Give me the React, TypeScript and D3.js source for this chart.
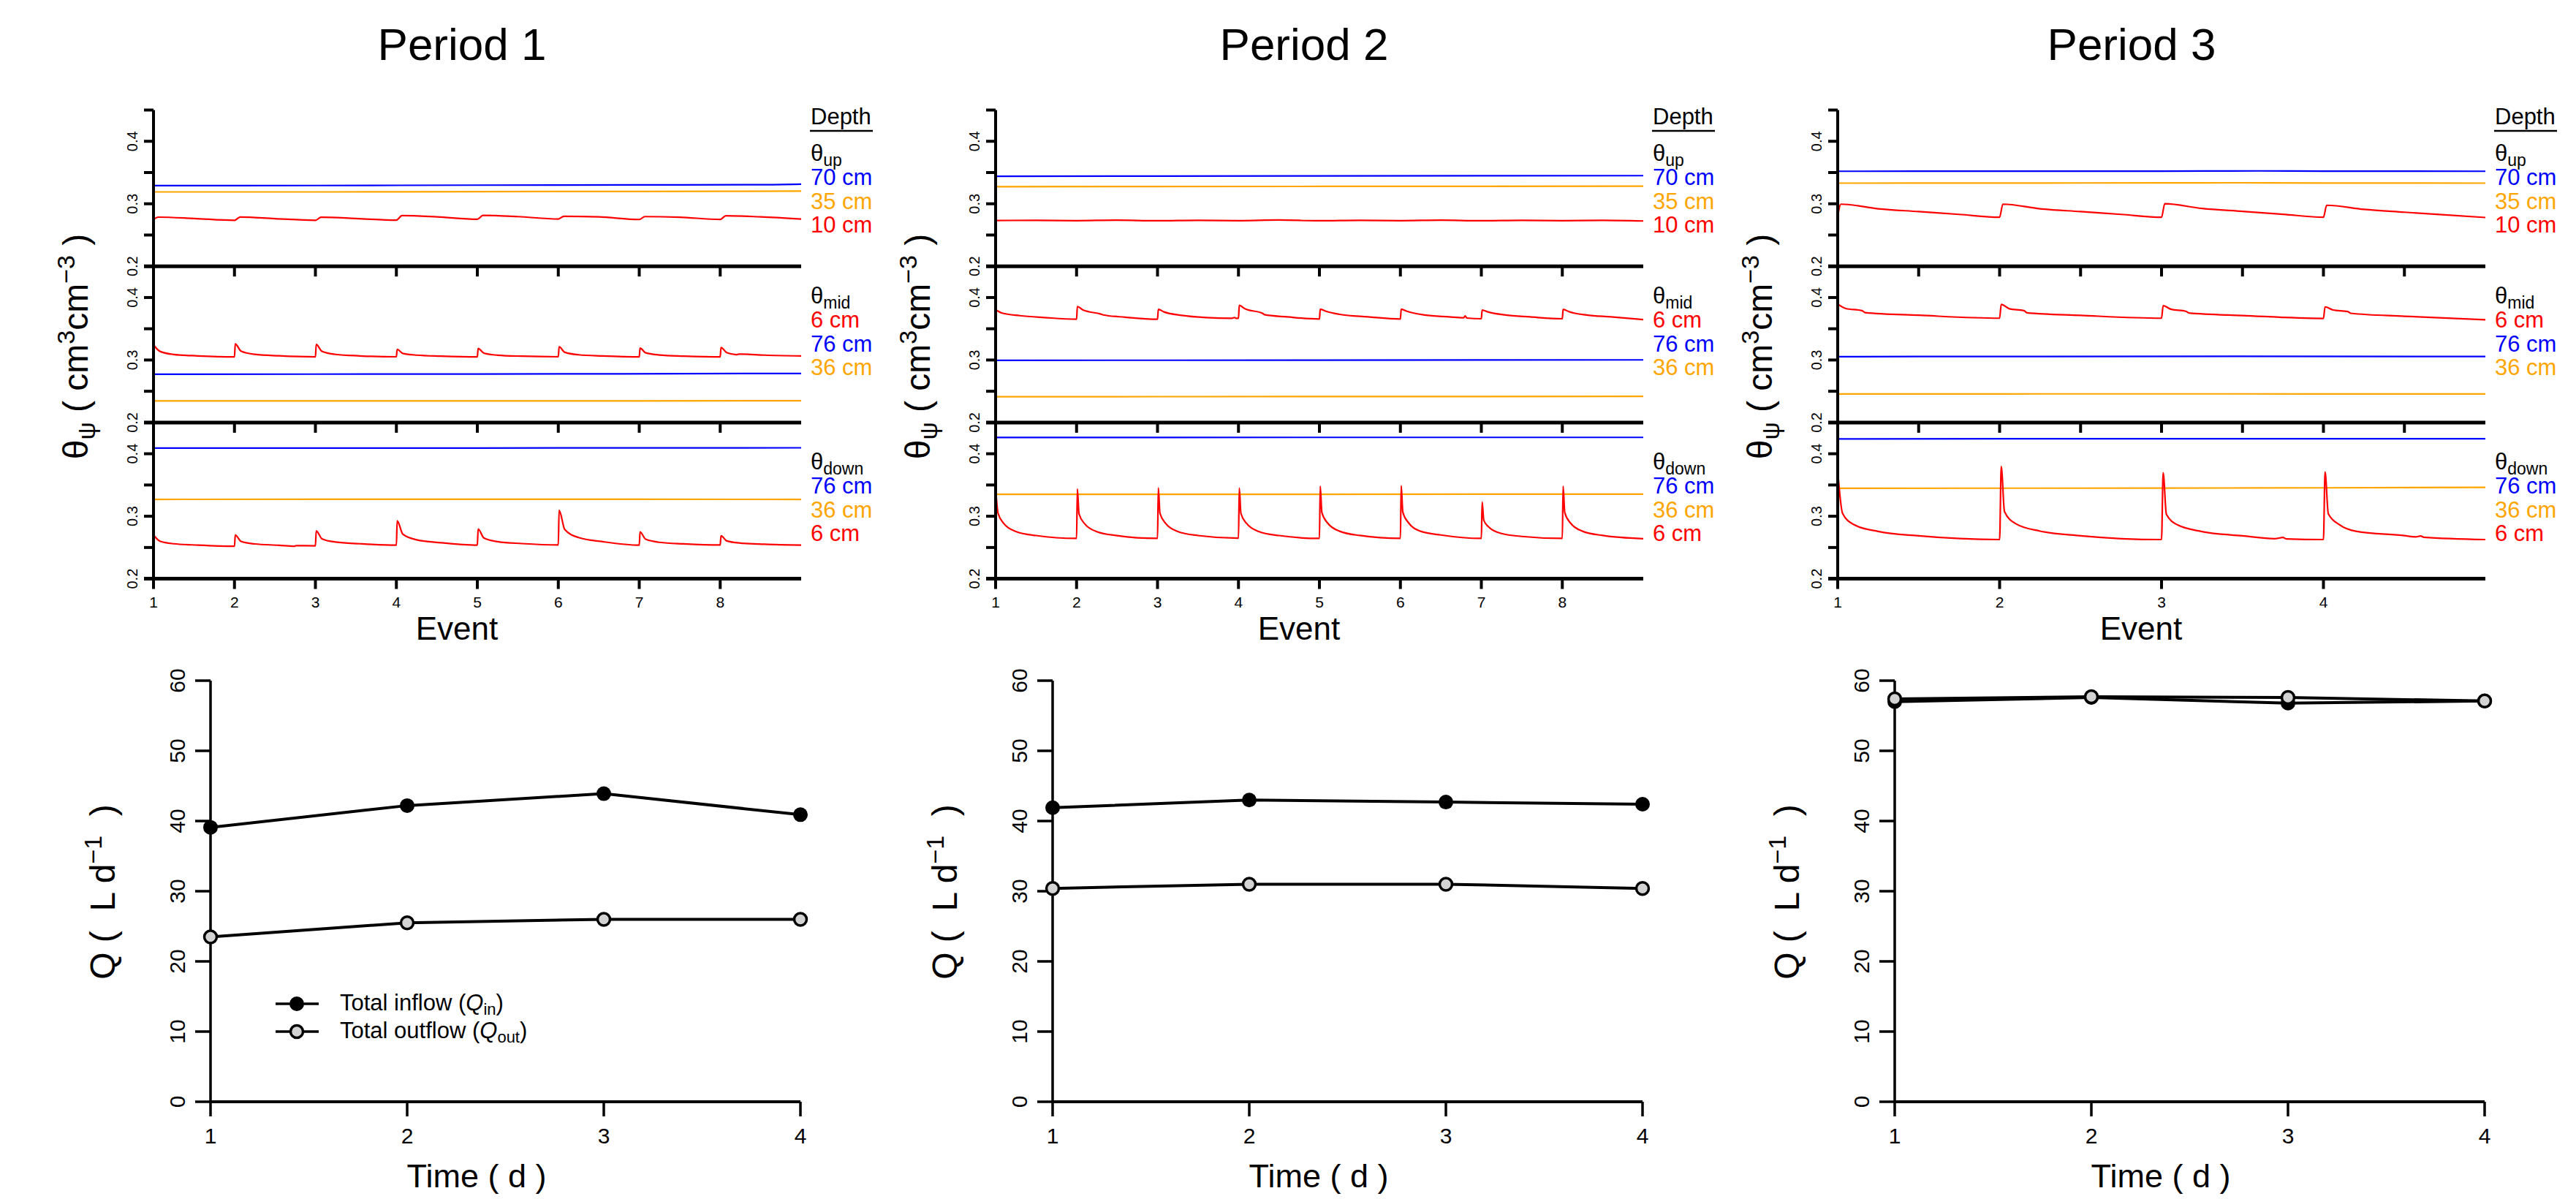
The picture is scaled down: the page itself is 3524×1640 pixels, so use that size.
import React from "react";
import * as d3 from "d3";

type Pt = [number, number];

// ---- data ----
const periods = ["Period 1", "Period 2", "Period 3"];
const eventMax = [9, 9, 5];
const eventTicks = [
  [1, 2, 3, 4, 5, 6, 7, 8],
  [1, 2, 3, 4, 5, 6, 7, 8],
  [1, 2, 3, 4],
];
const innerTicks = [
  [2, 3, 4, 5, 6, 7, 8],
  [2, 3, 4, 5, 6, 7, 8],
  [1.5, 2, 2.5, 3, 3.5, 4, 4.5],
];
const thetaTicks = [0.2, 0.25, 0.3, 0.35, 0.4];
const thetaLabels = [0.2, 0.3, 0.4];

const timeDays = [1, 2, 3, 4];
const qTicks = [0, 10, 20, 30, 40, 50, 60];
const inflow = [
  [39.1, 42.2, 43.9, 40.9],
  [41.9, 43.0, 42.7, 42.4],
  [57.0, 57.6, 56.8, 57.1],
];
const outflow = [
  [23.5, 25.5, 26.0, 26.0],
  [30.4, 31.0, 31.0, 30.4],
  [57.4, 57.7, 57.6, 57.1],
];

const upDepths = ["70 cm", "35 cm", "10 cm"];
const midDepths = ["6 cm", "76 cm", "36 cm"];
const downDepths = ["76 cm", "36 cm", "6 cm"];

// Period 1
const p1UpBlue: Pt[] = [[1, 0.329], [3, 0.3292], [5, 0.3298], [7, 0.3302], [8.5, 0.3305], [9, 0.3315]];
const p1UpOrange: Pt[] = [[1, 0.319], [3, 0.319], [5, 0.3195], [7, 0.3198], [9, 0.3202]];
const p1UpRed: Pt[] = [
  [1, 0.2748], [1.06, 0.2786], [1.5, 0.2765], [2, 0.2735], [2.07, 0.2788], [2.5, 0.2762], [3, 0.2735],
  [3.07, 0.2785], [3.5, 0.2765], [4, 0.2738], [4.07, 0.281], [4.5, 0.279], [5, 0.2752], [5.07, 0.2815],
  [5.5, 0.2795], [6, 0.2756], [6.07, 0.28], [6.5, 0.279], [7, 0.2748], [7.07, 0.2795], [7.5, 0.2785],
  [8, 0.275], [8.07, 0.2808], [8.5, 0.279], [9, 0.2756],
];
const p1MidRed: Pt[] = [
  [1, 0.3245], [1.08, 0.3138], [1.25, 0.3089], [1.55, 0.3066], [2, 0.305],
  [2.01, 0.3257], [2.08, 0.3143], [2.25, 0.3091], [2.55, 0.3067], [3, 0.305],
  [3.01, 0.325], [3.08, 0.314], [3.25, 0.309], [3.55, 0.3066], [4, 0.3052],
  [4.01, 0.317], [4.08, 0.3106], [4.25, 0.3078], [4.55, 0.3062], [5, 0.305],
  [5.01, 0.3185], [5.08, 0.3111], [5.25, 0.3077], [5.55, 0.3061], [6, 0.3052],
  [6.01, 0.321], [6.08, 0.3123], [6.25, 0.3084], [6.55, 0.3065], [7, 0.305],
  [7.01, 0.319], [7.08, 0.3114], [7.25, 0.308], [7.55, 0.3063], [8, 0.305],
  [8.01, 0.32], [8.08, 0.3118], [8.2, 0.3085], [8.23, 0.3095], [8.55, 0.3078], [9, 0.3066],
];
const p1MidBlue: Pt[] = [[1, 0.2773], [5, 0.2776], [9, 0.2785]];
const p1MidOrange: Pt[] = [[1, 0.2346], [5, 0.2345], [9, 0.2348]];
const p1DownBlue: Pt[] = [[1, 0.409], [5, 0.4092], [9, 0.4095]];
const p1DownOrange: Pt[] = [[1, 0.327], [5, 0.3272], [9, 0.327]];
const p1DownRed: Pt[] = [
  [1, 0.27], [1.08, 0.2601], [1.25, 0.256], [1.55, 0.2538], [2, 0.252],
  [2.01, 0.27], [2.08, 0.2598], [2.25, 0.2557], [2.55, 0.2536], [2.74, 0.252], [2.76, 0.253], [3, 0.2527],
  [3.01, 0.2766], [3.08, 0.264], [3.25, 0.2587], [3.55, 0.256], [4, 0.2537],
  [4.01, 0.2928], [4.08, 0.2713], [4.25, 0.2623], [4.55, 0.2576], [5, 0.2537],
  [5.01, 0.2796], [5.08, 0.2654], [5.25, 0.2594], [5.55, 0.2563], [6, 0.254],
  [6.01, 0.3096], [6.08, 0.2787], [6.25, 0.2659], [6.55, 0.2593], [7, 0.2537],
  [7.01, 0.2748], [7.08, 0.2632], [7.25, 0.2583], [7.55, 0.2558], [8, 0.254],
  [8.01, 0.2688], [8.08, 0.2605], [8.25, 0.257], [8.55, 0.2552], [9, 0.2537],
];

// Period 2
const p2UpBlue: Pt[] = [[1, 0.344], [5, 0.3445], [9, 0.345]];
const p2UpOrange: Pt[] = [[1, 0.3274], [5, 0.3278], [9, 0.3282]];
const p2UpRed: Pt[] = [
  [1, 0.2732], [1.5, 0.2735], [2, 0.273], [2.5, 0.2738], [3, 0.2728], [3.5, 0.2736], [4, 0.273],
  [4.5, 0.274], [5, 0.2728], [5.5, 0.2736], [6, 0.273], [6.5, 0.2738], [7, 0.2728], [7.5, 0.2735],
  [8, 0.273], [8.5, 0.2736], [9, 0.2725],
];
const p2MidRed: Pt[] = [
  [1, 0.3806], [1.08, 0.375], [1.3, 0.371], [1.6, 0.368], [2, 0.3652],
  [2.01, 0.3856], [2.08, 0.38], [2.3, 0.3735], [2.33, 0.3722], [2.6, 0.3685], [3, 0.3652],
  [3.01, 0.381], [3.08, 0.377], [3.3, 0.3715], [3.6, 0.368], [3.92, 0.3668], [3.95, 0.368], [3.97, 0.3668], [4, 0.3668],
  [4.01, 0.3874], [4.08, 0.382], [4.3, 0.3745], [4.32, 0.3725], [4.6, 0.369], [5, 0.3655],
  [5.01, 0.3814], [5.08, 0.378], [5.25, 0.373], [5.6, 0.369], [6, 0.3655],
  [6.01, 0.3814], [6.08, 0.378], [6.3, 0.372], [6.6, 0.369], [6.78, 0.3675], [6.8, 0.3705], [6.82, 0.3672], [7, 0.366],
  [7.01, 0.38], [7.08, 0.377], [7.3, 0.372], [7.6, 0.369], [8, 0.366],
  [8.01, 0.381], [8.08, 0.3775], [8.3, 0.372], [8.6, 0.369], [9, 0.3647],
];
const p2MidBlue: Pt[] = [[1, 0.2995], [5, 0.2998], [9, 0.3002]];
const p2MidOrange: Pt[] = [[1, 0.2413], [5, 0.2415], [9, 0.2418]];
const p2DownBlue: Pt[] = [[1, 0.426], [5, 0.4262], [9, 0.4262]];
const p2DownOrange: Pt[] = [[1, 0.335], [5, 0.3352], [9, 0.3355]];
const p2DownRed: Pt[] = [
  [1, 0.3454], [1.03, 0.3048], [1.1, 0.2886], [1.25, 0.2756], [1.5, 0.2691], [2, 0.2645],
  [2.01, 0.3436], [2.03, 0.3039], [2.1, 0.288], [2.25, 0.2753], [2.5, 0.269], [3, 0.2645],
  [3.01, 0.3454], [3.03, 0.3048], [3.1, 0.2886], [3.25, 0.2756], [3.5, 0.2691], [4, 0.2648],
  [4.01, 0.345], [4.03, 0.3046], [4.1, 0.2885], [4.25, 0.2756], [4.5, 0.2691], [5, 0.2645],
  [5.01, 0.348], [5.03, 0.306], [5.1, 0.2893], [5.25, 0.276], [5.5, 0.2692], [6, 0.2645],
  [6.01, 0.349], [6.03, 0.3065], [6.1, 0.2896], [6.25, 0.276], [6.5, 0.27], [7, 0.2645],
  [7.01, 0.3227], [7.03, 0.2935], [7.1, 0.2818], [7.25, 0.2724], [7.5, 0.2677], [8, 0.2645],
  [8.01, 0.348], [8.03, 0.306], [8.1, 0.2893], [8.25, 0.276], [8.5, 0.2692], [9, 0.264],
];

// Period 3
const p3UpBlue: Pt[] = [[1, 0.352], [2, 0.3522], [3, 0.3522], [3.6, 0.3526], [4, 0.3522], [5, 0.352]];
const p3UpOrange: Pt[] = [[1, 0.333], [2, 0.3332], [3, 0.3334], [3.5, 0.3336], [4, 0.3332], [5, 0.333]];
const p3UpRed: Pt[] = [
  [1, 0.2797], [1.02, 0.2994], [1.25, 0.292], [1.5, 0.2875], [1.75, 0.283], [2, 0.2785],
  [2.02, 0.2994], [2.25, 0.292], [2.5, 0.2875], [2.75, 0.283], [3, 0.2785],
  [3.02, 0.3], [3.25, 0.2925], [3.5, 0.2878], [3.75, 0.2832], [4, 0.2785],
  [4.02, 0.2976], [4.25, 0.291], [4.5, 0.2865], [4.75, 0.2822], [5, 0.278],
];
const p3MidRed: Pt[] = [
  [1, 0.3896], [1.05, 0.3824], [1.15, 0.379], [1.17, 0.3758], [1.5, 0.3716], [2, 0.3669],
  [2.01, 0.389], [2.06, 0.382], [2.15, 0.379], [2.17, 0.3756], [2.5, 0.3714], [3, 0.3669],
  [3.01, 0.387], [3.06, 0.381], [3.15, 0.378], [3.17, 0.3752], [3.5, 0.3712], [4, 0.3665],
  [4.01, 0.385], [4.06, 0.38], [4.15, 0.3775], [4.17, 0.3748], [4.5, 0.37], [5, 0.3645],
];
const p3MidBlue: Pt[] = [[1, 0.3054], [2, 0.3056], [3.5, 0.3058], [5, 0.3055]];
const p3MidOrange: Pt[] = [[1, 0.2457], [3, 0.2458], [5, 0.2456]];
const p3DownBlue: Pt[] = [[1, 0.4238], [3, 0.424], [5, 0.424]];
const p3DownOrange: Pt[] = [[1, 0.3448], [3, 0.345], [4, 0.3455], [5, 0.3463]];
const p3DownRed: Pt[] = [
  [1, 0.3731], [1.03, 0.3045], [1.1, 0.2866], [1.25, 0.2758], [1.5, 0.2687], [2, 0.2627],
  [2.01, 0.3797], [2.03, 0.3075], [2.1, 0.288], [2.25, 0.2762], [2.5, 0.2688], [3, 0.2627],
  [3.01, 0.3696], [3.03, 0.303], [3.1, 0.286], [3.25, 0.2755], [3.5, 0.2687], [3.7, 0.264], [3.75, 0.266], [3.77, 0.2638], [4, 0.2627],
  [4.01, 0.3708], [4.03, 0.304], [4.1, 0.2862], [4.2, 0.276], [4.5, 0.269], [4.57, 0.267], [4.6, 0.2685], [4.62, 0.2664], [5, 0.2627],
];

const BLUE = "#0000FF";
const ORANGE = "#FFA500";
const RED = "#FF0000";
const FONT = "'Liberation Sans', Arial, Helvetica, sans-serif";

// strips: [series, colour] per period, top to bottom
const stripSeries: [Pt[], string][][][] = [
  [
    [[p1UpBlue, BLUE], [p1UpOrange, ORANGE], [p1UpRed, RED]],
    [[p1MidRed, RED], [p1MidBlue, BLUE], [p1MidOrange, ORANGE]],
    [[p1DownBlue, BLUE], [p1DownOrange, ORANGE], [p1DownRed, RED]],
  ],
  [
    [[p2UpBlue, BLUE], [p2UpOrange, ORANGE], [p2UpRed, RED]],
    [[p2MidRed, RED], [p2MidBlue, BLUE], [p2MidOrange, ORANGE]],
    [[p2DownBlue, BLUE], [p2DownOrange, ORANGE], [p2DownRed, RED]],
  ],
  [
    [[p3UpBlue, BLUE], [p3UpOrange, ORANGE], [p3UpRed, RED]],
    [[p3MidRed, RED], [p3MidBlue, BLUE], [p3MidOrange, ORANGE]],
    [[p3DownBlue, BLUE], [p3DownOrange, ORANGE], [p3DownRed, RED]],
  ],
];

// layout
const W = 3524;
const H = 1640;
const PANEL_DX = 1152;
const TITLE_X = [632, 1784, 2916];
const STRIP_L = 210;
const STRIP_R = 1096;
const STRIP_TOP = 150.5;
const STRIP_H = 213.7;
const Q_L = 288;
const Q_R = 1095;
const Q_TOP = 931;
const Q_BOT = 1507;

const legendBlocks = [
  { sub: "up", labels: upDepths, colors: [BLUE, ORANGE, RED], y: 220 },
  { sub: "mid", labels: midDepths, colors: [RED, BLUE, ORANGE], y: 415 },
  { sub: "down", labels: downDepths, colors: [BLUE, ORANGE, RED], y: 642 },
];

function Panel({ i }: { i: number }) {
  const dx = i * PANEL_DX;
  const x = d3.scaleLinear().domain([1, eventMax[i]]).range([STRIP_L + dx, STRIP_R + dx]);
  const yScales = [0, 1, 2].map((k) =>
    d3.scaleLinear().domain([0.2, 0.45]).range([STRIP_TOP + (k + 1) * STRIP_H, STRIP_TOP + k * STRIP_H])
  );
  const qx = d3.scaleLinear().domain([1, 4]).range([Q_L + dx, Q_R + dx]);
  const qy = d3.scaleLinear().domain([0, 60]).range([Q_BOT, Q_TOP]);
  const qLine = d3.line<number>().x((_, j) => qx(timeDays[j])).y((d) => qy(d));

  const ax = STRIP_L + dx;
  const lx = 1109 + dx;

  return (
    <g>
      <text x={TITLE_X[i]} y={82} fontSize={62} textAnchor="middle">{periods[i]}</text>

      {/* soil moisture strips */}
      {yScales.map((y, k) => {
        const line = d3.line<Pt>().x((d) => x(d[0])).y((d) => y(d[1])).curve(d3.curveMonotoneX);
        const ticks = k === 0 ? [...thetaTicks, 0.45] : thetaTicks;
        return (
          <g key={k}>
            {stripSeries[i][k].map(([pts, col], s) => (
              <path key={s} d={line(pts) || ""} fill="none" stroke={col} strokeWidth={2.2} />
            ))}
            {ticks.map((t) => (
              <line key={t} x1={ax - 13} x2={ax} y1={y(t)} y2={y(t)} stroke="#000" strokeWidth={4} />
            ))}
            {thetaLabels.map((t) => (
              <text key={t} transform={`translate(${ax - 22},${y(t)}) rotate(-90)`} textAnchor="middle" fontSize={20}>
                {t.toFixed(1)}
              </text>
            ))}
            <line x1={ax - 13} x2={STRIP_R + dx} y1={y(0.2)} y2={y(0.2)} stroke="#000" strokeWidth={5} />
            {(k < 2 ? innerTicks[i] : eventTicks[i]).map((t) => (
              <line key={t} x1={x(t)} x2={x(t)} y1={y(0.2)} y2={y(0.2) + 14} stroke="#000" strokeWidth={4} />
            ))}
          </g>
        );
      })}
      <line x1={ax} x2={ax} y1={yScales[0](0.45)} y2={yScales[2](0.2)} stroke="#000" strokeWidth={4} />
      {eventTicks[i].map((t) => (
        <text key={t} x={x(t)} y={831} fontSize={21} textAnchor="middle">{t}</text>
      ))}
      <text x={625 + dx} y={875} fontSize={44} textAnchor="middle">Event</text>
      <text transform={`translate(${120 + dx},474) rotate(-90)`} textAnchor="middle" fontSize={48} style={{ whiteSpace: "pre" }}>
        θ<tspan fontSize={34} dy={10}>ψ</tspan>
        <tspan dy={-10}>{" ( cm"}</tspan>
        <tspan fontSize={34} dy={-18}>3</tspan>
        <tspan dy={18}>cm</tspan>
        <tspan fontSize={34} dy={-18}>−3</tspan>
        <tspan dy={18}>{" )"}</tspan>
      </text>

      {/* depth legend */}
      <text x={lx} y={170} fontSize={31}>Depth</text>
      <line x1={lx - 1} x2={lx + 85} y1={179} y2={179} stroke="#000" strokeWidth={2.5} />
      {legendBlocks.map((b) => (
        <g key={b.sub}>
          <text x={lx} y={b.y} fontSize={31}>
            θ<tspan fontSize={23} dy={7}>{b.sub}</tspan>
          </text>
          {b.labels.map((lab, j) => (
            <text key={j} x={lx} y={b.y + 33 + j * 32.5} fontSize={31} fill={b.colors[j]}>{lab}</text>
          ))}
        </g>
      ))}

      {/* flow panel */}
      <line x1={Q_L + dx} x2={Q_L + dx} y1={Q_TOP} y2={Q_BOT} stroke="#000" strokeWidth={3.5} />
      {qTicks.map((t) => (
        <g key={t}>
          <line x1={Q_L + dx - 21} x2={Q_L + dx} y1={qy(t)} y2={qy(t)} stroke="#000" strokeWidth={3.5} />
          <text transform={`translate(${253 + dx},${qy(t)}) rotate(-90)`} textAnchor="middle" fontSize={30}>{t}</text>
        </g>
      ))}
      <line x1={Q_L + dx} x2={Q_R + dx} y1={Q_BOT} y2={Q_BOT} stroke="#000" strokeWidth={4} />
      {timeDays.map((t) => (
        <g key={t}>
          <line x1={qx(t)} x2={qx(t)} y1={Q_BOT} y2={Q_BOT + 20} stroke="#000" strokeWidth={3.5} />
          <text x={qx(t)} y={1564} fontSize={30} textAnchor="middle">{t}</text>
        </g>
      ))}
      <path d={qLine(inflow[i]) || ""} fill="none" stroke="#000" strokeWidth={4} />
      {inflow[i].map((v, j) => (
        <circle key={j} cx={qx(timeDays[j])} cy={qy(v)} r={10} fill="#000" />
      ))}
      <path d={qLine(outflow[i]) || ""} fill="none" stroke="#000" strokeWidth={4} />
      {outflow[i].map((v, j) => (
        <circle key={j} cx={qx(timeDays[j])} cy={qy(v)} r={8.5} fill="#d3d3d3" stroke="#000" strokeWidth={3.5} />
      ))}
      <text x={652 + dx} y={1624} fontSize={45} textAnchor="middle" style={{ whiteSpace: "pre" }}>{"Time ( d )"}</text>
      <text transform={`translate(${157 + dx},1220) rotate(-90)`} textAnchor="middle" fontSize={48} style={{ whiteSpace: "pre" }}>
        {"Q (  L d"}
        <tspan fontSize={34} dy={-18}>−1</tspan>
        <tspan dy={18}>{"  )"}</tspan>
      </text>

      {i === 0 && (
        <g>
          {[
            { y: 1373, fill: "#000", r: 10, label: "Total inflow (", sub: "in" },
            { y: 1411, fill: "#d3d3d3", r: 8.5, label: "Total outflow (", sub: "out" },
          ].map((it) => (
            <g key={it.sub}>
              <line x1={377} x2={436} y1={it.y} y2={it.y} stroke="#000" strokeWidth={3.5} />
              <circle cx={406} cy={it.y} r={it.r} fill={it.fill} stroke="#000" strokeWidth={it.fill === "#000" ? 0 : 3.5} />
              <text x={465} y={it.y + 9} fontSize={31} style={{ whiteSpace: "pre" }}>
                {it.label}
                <tspan fontStyle="italic">Q</tspan>
                <tspan fontSize={22} dy={6}>{it.sub}</tspan>
                <tspan dy={-6}>)</tspan>
              </text>
            </g>
          ))}
        </g>
      )}
    </g>
  );
}

export default function App() {
  return (
    <svg
      width={W}
      height={H}
      viewBox={`0 0 ${W} ${H}`}
      style={{ position: "absolute", left: 0, top: 0, background: "#fff", fontFamily: FONT }}
    >
      <rect width={W} height={H} fill="#fff" />
      {periods.map((_, i) => (
        <Panel key={i} i={i} />
      ))}
    </svg>
  );
}
